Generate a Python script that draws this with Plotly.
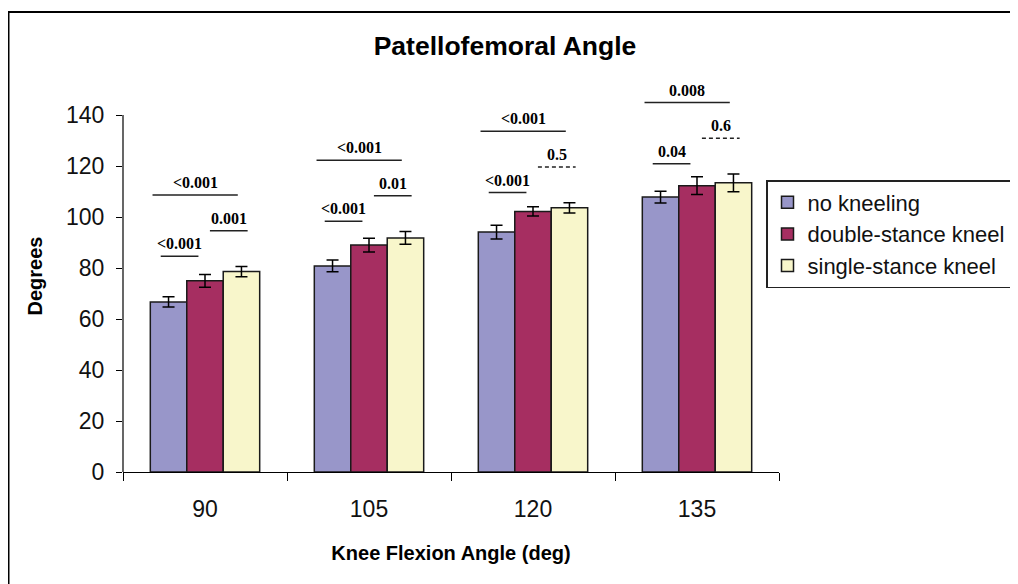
import plotly.graph_objects as go

# ---------------- data ----------------
angles = ["90", "105", "120", "135"]
series_names = ["no kneeling", "double-stance kneel", "single-stance kneel"]
no_kneeling = [66.7, 80.8, 94.1, 107.8]
double_stance = [75.0, 89.0, 102.2, 112.3]
single_stance = [78.6, 91.8, 103.6, 113.4]
err_no_kneeling = [2.0, 2.3, 2.7, 2.3]
err_double_stance = [2.5, 2.7, 1.8, 3.5]
err_single_stance = [2.0, 2.5, 2.0, 3.5]

p_no_vs_double = ["<0.001", "<0.001", "<0.001", "0.04"]
p_double_vs_single = ["0.001", "0.01", "0.5", "0.6"]
p_no_vs_single = ["<0.001", "<0.001", "<0.001", "0.008"]

y_ticks = [0, 20, 40, 60, 80, 100, 120, 140]

# ---------------- styles ----------------
colors = ["#9896C9", "#A62E61", "#F8F6CB"]
values = [no_kneeling, double_stance, single_stance]
errors = [err_no_kneeling, err_double_stance, err_single_stance]

W, H = 1010, 576          # page body has an 8px margin
L, T, PW, PH = 115, 72, 656, 392

fig = go.Figure()
for name, vals, errs, col in zip(series_names, values, errors, colors):
    fig.add_trace(go.Bar(
        name=name, x=angles, y=vals,
        marker=dict(color=col, line=dict(color="#1a1a1a", width=1.5)),
        error_y=dict(type="data", array=errs, color="black", thickness=1.5, width=6),
    ))

# significance brackets
shapes = []
annotations = []
sig_font = dict(family="Liberation Serif", size=16, color="black", weight="bold")
for i in range(len(angles)):
    base = max(v[i] + e[i] for v, e in zip(values, errors))
    comps = [
        (p_no_vs_double[i], -0.27, -0.04, base + 4),
        (p_double_vs_single[i], 0.03, 0.26, base + 14),
        (p_no_vs_single[i], -0.32, 0.20, base + 28),
    ]
    for label, dx0, dx1, yl in comps:
        dashed = not label.startswith("<") and float(label) > 0.05
        shapes.append(dict(
            type="line", xref="x", yref="y",
            x0=i + dx0, x1=i + dx1, y0=yl, y1=yl,
            line=dict(color="#222", width=1.5, dash="4px,3px" if dashed else "solid"),
        ))
        annotations.append(dict(
            x=i + (dx0 + dx1) / 2, y=yl, xref="x", yref="y",
            text=label, showarrow=False, yanchor="bottom", yshift=2,
            font=sig_font,
        ))

# y axis line only up to 140
shapes.append(dict(type="line", xref="paper", yref="y", x0=0, x1=0, y0=0, y1=140,
                   line=dict(color="black", width=1.2)))
# outer frame
shapes.append(dict(type="rect", xref="paper", yref="paper",
                   x0=(0.5 - L) / PW, x1=1.45, y0=-0.45, y1=(T + PH - 4) / PH,
                   line=dict(color="black", width=2), fillcolor="rgba(0,0,0,0)"))

fig.update_layout(
    width=W, height=H,
    margin=dict(l=L, r=W - L - PW, t=T, b=H - T - PH, autoexpand=False),
    paper_bgcolor="white", plot_bgcolor="white",
    barmode="group", bargap=0.333, bargroupgap=0,
    font=dict(family="Liberation Sans, Arial", color="black"),
    title=dict(text="<b>Patellofemoral Angle</b>", x=497 / W, xanchor="center",
               y=1 - 38 / H, yanchor="middle",
               font=dict(size=26.5, family="Liberation Sans, Arial", color="black")),
    xaxis=dict(
        type="category", range=[-0.5, 3.5], tickson="boundaries",
        ticks="outside", ticklen=8, tickcolor="black", tickwidth=1.2,
        showline=True, linecolor="black", linewidth=1.2,
        tickfont=dict(size=23, color="#111"), ticklabelstandoff=16,
        showgrid=False, zeroline=False,
        title=dict(text="<b>Knee Flexion Angle (deg)</b>", standoff=25,
                   font=dict(size=20, color="black")),
    ),
    yaxis=dict(
        range=[0, PH / 2.55], tickvals=y_ticks,
        ticks="outside", ticklen=6, tickcolor="black", tickwidth=1.2,
        showline=False, showgrid=False, zeroline=False,
        tickfont=dict(size=23, color="#111"), ticklabelstandoff=7,
        title=dict(text="<b>Degrees</b>", standoff=18,
                   font=dict(size=20, color="black")),
    ),
    legend=dict(
        x=(758 - L) / PW, y=(T + PH - 172) / PH, xanchor="left", yanchor="top",
        bordercolor="#222", borderwidth=1.5, bgcolor="white",
        font=dict(size=22, color="#111"),
        tracegroupgap=0,
    ),
    shapes=shapes,
    annotations=annotations,
)

fig.write_html("out.html")
